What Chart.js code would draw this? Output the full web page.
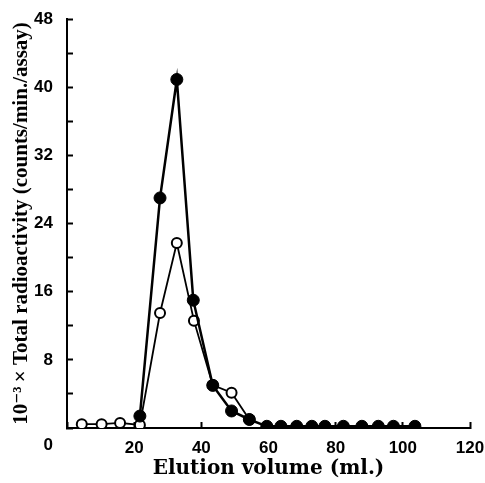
<!DOCTYPE html>
<html>
<head>
<meta charset="utf-8">
<script src="https://cdn.jsdelivr.net/npm/chart.js@4"></script>
<style>
html,body{margin:0;padding:0;background:#fff;}
canvas{display:block;}
</style>
</head>
<body>
<canvas id="c" width="485" height="483"></canvas>
<script>
// Elution volume (ml.) and total radioactivity (x10^-3 counts/min./assay)
const filledVolume = [21.7, 27.7, 32.7, 37.6, 43.4, 49.0, 54.3, 59.5, 63.7, 68.4, 72.9, 76.8, 82.3, 87.8, 92.7, 97.2, 103.6];
const filledValues = [1.4, 27.0, 40.9, 15.0, 5.0, 2.0, 1.0, 0.2, 0.2, 0.2, 0.2, 0.2, 0.2, 0.2, 0.2, 0.2, 0.2];
const openVolume = [4.4, 10.3, 15.8, 21.7, 27.7, 32.7, 37.8, 43.4, 49.0, 54.3];
const openValues = [0.45, 0.45, 0.6, 0.35, 13.5, 21.7, 12.6, 5.05, 4.15, 1.0];
const xTickLabels = [0, 20, 40, 60, 80, 100, 120];
const yTickLabels = [0, 8, 16, 24, 32, 40, 48];
const xTitle = 'Elution volume (ml.)';
const yTitle = '10\u207B\u00B3\u2009\u00D7 Total radioactivity (counts/min./assay)';
const originLabel = '0';

const tickFont = {family: "'Liberation Sans Narrow', 'Liberation Sans', Arial, sans-serif", size: 17, weight: 'bold'};
const xTitleFont = {family: "'DejaVu Serif', 'Liberation Serif', serif", size: 20, weight: 'bold'};
const yTitleFont = {family: "'Liberation Serif', 'DejaVu Serif', serif", size: 21, weight: 'bold'};

const toPts = (xs, ys) => xs.map((x, i) => ({x: x, y: ys[i]}));

const originPlugin = {
  id: 'originLabel',
  afterDraw(chart) {
    const ctx = chart.ctx;
    const xs = chart.scales.x, ys = chart.scales.y;
    ctx.save();
    ctx.font = `bold ${tickFont.size}px ${tickFont.family}`;
    ctx.fillStyle = '#000';
    ctx.textAlign = 'right';
    ctx.textBaseline = 'middle';
    ctx.fillText(originLabel, ys.right - 14, xs.top + 17);
    ctx.restore();
  }
};

function noEdgePadding(s) {
  s.paddingTop = 0; s.paddingBottom = 0; s.paddingLeft = 0; s.paddingRight = 0;
}

new Chart(document.getElementById('c'), {
  type: 'line',
  data: {
    datasets: [
      {
        label: 'filled',
        data: toPts(filledVolume, filledValues),
        borderColor: '#000',
        borderWidth: 2.5,
        backgroundColor: '#000',
        pointBackgroundColor: '#000',
        pointBorderColor: '#000',
        pointRadius: 6,
        pointBorderWidth: 1,
        tension: 0,
        order: 0
      },
      {
        label: 'open',
        data: toPts(openVolume, openValues),
        borderColor: '#000',
        borderWidth: 1.8,
        pointBackgroundColor: '#fff',
        pointBorderColor: '#000',
        pointRadius: 5,
        pointBorderWidth: 2,
        tension: 0,
        order: 1
      }
    ]
  },
  options: {
    responsive: false,
    animation: false,
    devicePixelRatio: 1,
    layout: {padding: {top: 19, right: 15, bottom: 0, left: 0}},
    plugins: {legend: {display: false}, tooltip: {enabled: false}},
    scales: {
      x: {
        type: 'linear',
        min: 0, max: 120,
        afterFit(s) { s.height = 55; noEdgePadding(s); },
        afterBuildTicks(s) { s.ticks = xTickLabels.map(v => ({value: v})); },
        ticks: {
          color: '#000',
          font: tickFont,
          padding: 16,
          maxRotation: 0,
          callback: v => (v === 0 ? '' : String(v))
        },
        grid: {drawOnChartArea: false, drawTicks: true, tickLength: -6, tickWidth: 2, color: '#000'},
        border: {display: true, color: '#000', width: 2},
        title: {display: true, text: xTitle, color: '#000', font: xTitleFont, padding: {top: 0, bottom: 2}}
      },
      y: {
        type: 'linear',
        min: 0, max: 48,
        afterFit(s) { s.width = 67; noEdgePadding(s); },
        ticks: {
          stepSize: 4,
          color: '#000',
          font: tickFont,
          padding: 20,
          callback: v => (v !== 0 && yTickLabels.includes(v) ? String(v) : '')
        },
        grid: {drawOnChartArea: false, drawTicks: true, tickLength: -6, tickWidth: 2, color: '#000'},
        border: {display: true, color: '#000', width: 2},
        title: {display: true, text: yTitle, color: '#000', font: yTitleFont, padding: {top: 9, bottom: 0}}
      }
    }
  },
  plugins: [originPlugin]
});
</script>
</body>
</html>
